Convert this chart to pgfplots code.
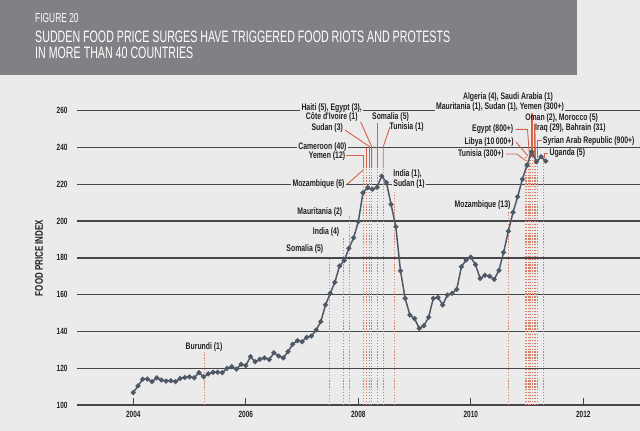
\documentclass[border=0pt]{standalone}
\usepackage{pgfplots}
\pgfplotsset{compat=1.18}
\usepackage{pgfplotstable}
\usepackage{fontspec}
\setmainfont{Liberation Sans}
\newfontfamily\ttl{Liberation Sans}[FakeStretch=0.646]
\newfontfamily\lab{Liberation Sans}[FakeStretch=0.724]

\definecolor{bg}{HTML}{EBEBEC}
\definecolor{header}{HTML}{808184}
\definecolor{grid}{HTML}{464648}
\definecolor{curve}{HTML}{4F5966}
\definecolor{dot}{HTML}{D9806A}
\definecolor{lead}{HTML}{D4614A}
\definecolor{txt}{HTML}{231F20}

% FAO food price index, monthly
\pgfplotstableread{
d v
2004.000 106.7
2004.083 110.4
2004.167 114.0
2004.250 114.1
2004.333 112.7
2004.417 114.8
2004.500 113.6
2004.583 113.0
2004.667 113.2
2004.750 112.7
2004.833 114.4
2004.917 115.0
2005.000 115.3
2005.083 114.8
2005.167 117.6
2005.250 115.4
2005.333 116.9
2005.417 117.8
2005.500 117.8
2005.583 117.6
2005.667 119.9
2005.750 120.8
2005.833 119.5
2005.917 122.1
2006.000 121.4
2006.083 126.3
2006.167 123.5
2006.250 124.9
2006.333 125.6
2006.417 124.7
2006.500 128.4
2006.583 126.6
2006.667 125.6
2006.750 129.0
2006.833 133.0
2006.917 135.0
2007.000 134.4
2007.083 136.8
2007.167 137.5
2007.250 140.8
2007.333 145.3
2007.417 154.4
2007.500 160.7
2007.583 166.7
2007.667 175.6
2007.750 178.6
2007.833 185.2
2007.917 190.9
2008.000 199.7
2008.083 215.4
2008.167 218.2
2008.250 217.3
2008.333 218.4
2008.417 224.5
2008.500 220.9
2008.583 209.1
2008.667 196.9
2008.750 172.9
2008.833 158.0
2008.917 148.9
2009.000 147.0
2009.083 141.7
2009.167 143.1
2009.250 147.7
2009.333 158.0
2009.417 158.5
2009.500 154.4
2009.583 159.8
2009.667 160.7
2009.750 162.9
2009.833 175.2
2009.917 178.8
2010.000 180.4
2010.083 176.3
2010.167 168.8
2010.250 170.5
2010.333 170.0
2010.417 168.3
2010.500 173.2
2010.583 183.0
2010.667 194.5
2010.750 204.7
2010.833 213.2
2010.917 222.8
2011.000 230.4
2011.083 237.7
2011.167 232.3
2011.250 235.0
2011.333 232.6
}\fpi

\begin{document}
\begin{tikzpicture}[x=1pt,y=1pt,
  evt/.style={dot, line width=1pt, dash pattern=on 1.3pt off 1.6pt},
  ld/.style={lead, line width=0.9pt},
  lbl/.style={inner sep=0.6pt, text=txt, font=\lab\bfseries\fontsize{9.5}{10}\selectfont},
  lblf/.style={lbl, fill=bg, inner sep=1.2pt}]
\useasboundingbox (0,0) rectangle (640,431);
\fill[bg] (0,0) rectangle (640,431);
\fill[header] (0,356) rectangle (577,431);
\node[anchor=base west, inner sep=0pt, text=white, font=\ttl\fontsize{13}{13}\selectfont] at (35,408) {FIGURE 20};
\node[anchor=base west, inner sep=0pt, text=white, font=\ttl\fontsize{16.5}{16.5}\selectfont] at (35,388) {SUDDEN FOOD PRICE SURGES HAVE TRIGGERED FOOD RIOTS AND PROTESTS};
\node[anchor=base west, inner sep=0pt, text=white, font=\ttl\fontsize{16.5}{16.5}\selectfont] at (35,372) {IN MORE THAN 40 COUNTRIES};
\node[rotate=90, inner sep=0pt, text=txt, font=\lab\bfseries\fontsize{11}{11}\selectfont] at (39,173) {FOOD PRICE INDEX};

\begin{axis}[
  at={(77.05pt,26pt)}, anchor=south west,
  scale only axis, width=562.5pt, height=294.24pt,
  xmin=2003, xmax=2013, ymin=100, ymax=260,
  clip=false,
  axis x line*=bottom, axis y line*=left,
  y axis line style={draw=none},
  x axis line style={draw=grid, line width=1.3pt, -},
  xtick={2004,2006,2008,2010,2012},
  xticklabels={2004,2006,2008,2010,2012},
  ytick={100,120,...,260},
  yticklabels={100,120,140,160,180,200,220,240,260},
  ymajorgrids, grid style={draw=grid, line width=1.3pt},
  xtick style={draw=grid, line width=1.1pt},
  ytick style={draw=none},
  major tick length=7pt, tick align=inside,
  ticklabel style={font=\lab\bfseries\fontsize{9}{9}\selectfont, text=txt},
  xticklabel style={yshift=-3pt},
  yticklabel style={xshift=-6pt},
]
% event markers
\addplot[evt, forget plot] coordinates {(2005.257,100) (2005.257,128.8)};
\addplot[evt, forget plot] coordinates {(2007.484,100) (2007.484,179.9)};
\addplot[evt, forget plot] coordinates {(2007.728,100) (2007.728,191.3)};
\addplot[evt, forget plot] coordinates {(2007.840,100) (2007.840,202.8)};
\pgfplotsinvokeforeach{2008.089,2008.149,2008.199,2008.238,2008.338,2008.444}{
  \addplot[evt, forget plot] coordinates {(#1,100) (#1,228.9)};
}
\addplot[evt, forget plot] coordinates {(2008.652,100) (2008.652,215.8)};
\addplot[evt, forget plot] coordinates {(2010.667,100) (2010.667,205.0)};
\pgfplotsinvokeforeach{2010.964,2010.990,2011.017,2011.044,2011.070,2011.097,2011.124,2011.150,2011.177}{
  \addplot[evt, forget plot] coordinates {(#1,100) (#1,234.9)};
}
\addplot[evt, forget plot] coordinates {(2011.301,100) (2011.301,234.3)};

% leaders 2008
\draw[ld] (axis cs:2008.000,256.8) -- (axis cs:2008.238,240.5) -- (axis cs:2008.238,228.9);
\draw[ld] (axis cs:2007.764,249.5) -- (axis cs:2008.199,240.5) -- (axis cs:2008.199,228.9);
\draw[ld] (axis cs:2008.149,239.9) -- (axis cs:2008.149,228.9);
\draw[ld] (axis cs:2007.781,235.9) -- (axis cs:2008.089,235.9) -- (axis cs:2008.089,228.9);
\draw[ld] (axis cs:2007.799,220.0) -- (axis cs:2008.089,227.8);
\draw[ld] (axis cs:2008.338,253.3) -- (axis cs:2008.338,228.9);
\draw[ld] (axis cs:2008.564,251.2) -- (axis cs:2008.444,240.5) -- (axis cs:2008.444,228.9);
% leaders 2011
\draw[ld] (axis cs:2010.626,236.5) -- (axis cs:2010.816,236.5) -- (axis cs:2010.964,233.2);
\draw[ld] (axis cs:2010.804,243.0) -- (axis cs:2011.017,235.4);
\draw[ld] (axis cs:2010.795,249.9) -- (axis cs:2011.008,249.9) -- (axis cs:2011.044,234.9);
\draw[ld] (axis cs:2011.070,258.8) -- (axis cs:2011.070,234.9);
\draw[ld] (axis cs:2011.097,258.8) -- (axis cs:2011.097,234.9);
\draw[ld] (axis cs:2011.124,252.8) -- (axis cs:2011.124,234.9);
\draw[ld] (axis cs:2011.141,249.5) -- (axis cs:2011.150,234.9);
\draw[ld] (axis cs:2011.257,243.6) -- (axis cs:2011.177,243.6) -- (axis cs:2011.177,234.9);
\draw[ld] (axis cs:2011.372,237.0) -- (axis cs:2011.301,237.0) -- (axis cs:2011.301,234.3);

% the index
\addplot[color=curve, line width=1.5pt, mark=*, mark size=1.7pt,
  mark options={fill=curve, draw=curve}] table[x=d, y=v] {\fpi};

% labels
\node[lbl] at (axis cs:2005.257,131.5) {Burundi (1)};
\node[lbl, anchor=east] at (axis cs:2007.390,184.8) {Somalia (5)};
\node[lbl, anchor=east] at (axis cs:2007.676,194.2) {India (4)};
\node[lbl, anchor=east] at (axis cs:2007.728,205.1) {Mauritania (2)};
\node[lblf, anchor=east] at (axis cs:2007.780,220.0) {Mozambique (6)};
\node[lblf, anchor=east, inner ysep=0pt] at (axis cs:2007.815,240.1) {Cameroon (40)};
\node[lbl, anchor=east] at (axis cs:2007.780,235.6) {Yemen (12)};
\node[lbl, anchor=east] at (axis cs:2007.740,250.5) {Sudan (3)};
\node[lblf, align=center] at (axis cs:2007.527,259.1) {Haiti (5), Egypt (3),\\[-1.3pt] C\^ote d'Ivoire (1)};
\node[lbl] at (axis cs:2008.573,256.4) {Somalia (5)};
\node[lbl] at (axis cs:2008.860,251.3) {Tunisia (1)};
\node[lblf, anchor=west, align=left] at (axis cs:2008.600,222.7) {India (1),\\ Sudan (1)};
\node[lbl, anchor=east] at (axis cs:2010.718,208.8) {Mozambique (13)};
\node[lbl, anchor=east] at (axis cs:2010.600,236.5) {Tunisia (300+)};
\node[lbl, anchor=east] at (axis cs:2010.778,243.2) {Libya (10\,000+)};
\node[lbl, anchor=east] at (axis cs:2010.769,249.9) {Egypt (800+)};
\node[lbl] at (axis cs:2010.661,267.6) {Algeria (4), Saudi Arabia (1)};
\node[lblf] at (axis cs:2010.519,262.2) {Mauritania (1), Sudan (1), Yemen (300+)};
\node[lbl, anchor=west] at (axis cs:2010.954,255.9) {Oman (2), Morocco (5)};
\node[lbl, anchor=west] at (axis cs:2011.131,250.5) {Iraq (29), Bahrain (31)};
\node[lbl, anchor=west] at (axis cs:2011.268,243.6) {Syrian Arab Republic (900+)};
\node[lbl, anchor=west] at (axis cs:2011.386,236.9) {Uganda (5)};
\end{axis}
\end{tikzpicture}
\end{document}
